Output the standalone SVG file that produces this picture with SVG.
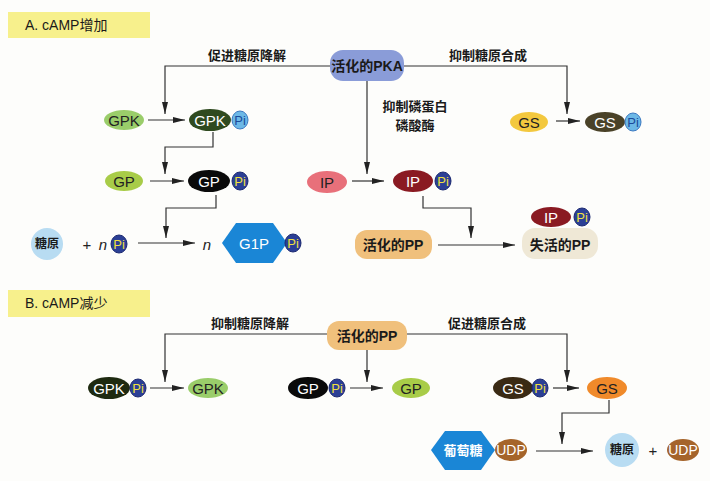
<svg xmlns="http://www.w3.org/2000/svg" width="710" height="481" viewBox="0 0 710 481">
<defs>
<marker id="ah" viewBox="0 0 12 6" refX="12" refY="3" markerWidth="12" markerHeight="6" markerUnits="userSpaceOnUse" orient="auto">
<path d="M0,0 L12,3 L0,6 Z" fill="#222"/>
</marker>
<style>
.ln{fill:none;stroke:#333;stroke-width:1.2;marker-end:url(#ah)}
.t{font-family:"Liberation Sans",Arial,sans-serif;font-size:15px;text-anchor:middle;dominant-baseline:central}
.cn{font-family:"Noto Sans CJK SC","Noto Sans",sans-serif;font-size:13px;font-weight:bold;text-anchor:middle;fill:#1a1a1a}
.cb{font-family:"Liberation Sans","Noto Sans CJK SC",sans-serif;font-size:14px;font-weight:bold;text-anchor:middle;dominant-baseline:central;fill:#1a1a1a}
.w{fill:#fff}
.pi{font-family:"Liberation Sans",Arial,sans-serif;font-size:13px;text-anchor:middle;dominant-baseline:central}
.pl{fill:#6cb8e6;stroke:#3a78c0;stroke-width:1}
.pd{fill:#2b3f95;stroke:#1a2870;stroke-width:1}
.ptl{fill:#1a4a9a}
.ptd{fill:#f0e040}
.ttl{font-family:"Liberation Sans","Noto Sans CJK SC",sans-serif;font-size:14px;fill:#1a1a1a}
</style>
</defs>
<rect width="710" height="481" fill="#fdfdfb"/>

<g id="titleA"><rect x="8" y="12" width="142" height="26" fill="#f7f08c"/><text x="25" y="30" class="ttl">A. cAMP增加</text></g>
<g id="titleB"><rect x="8" y="290" width="142" height="27" fill="#f7f08c"/><text x="25" y="308" class="ttl">B. cAMP减少</text></g>

<g id="connectors">
<polyline class="ln" points="330,66 165,66 165,114"/>
<polyline class="ln" points="404,66 567,66 567,114"/>
<polyline class="ln" points="367,80 367,174"/>
<line class="ln" x1="148" y1="120" x2="185" y2="120"/>
<line class="ln" x1="556" y1="121" x2="580" y2="121"/>
<polyline class="ln" points="213,132 213,147 165,147 165,174"/>
<line class="ln" x1="150" y1="181" x2="184" y2="181"/>
<line class="ln" x1="352" y1="181" x2="384" y2="181"/>
<polyline class="ln" points="216,195 216,208 166,208 166,238"/>
<line class="ln" x1="138" y1="243" x2="195" y2="243"/>
<polyline class="ln" points="423,196 423,208 471,208 471,238"/>
<line class="ln" x1="438" y1="245" x2="515" y2="245"/>

<polyline class="ln" points="327,334 165,334 165,382"/>
<polyline class="ln" points="407,334 567,334 567,382"/>
<line class="ln" x1="367" y1="349" x2="367" y2="382"/>
<line class="ln" x1="150" y1="388" x2="184" y2="388"/>
<line class="ln" x1="350" y1="388" x2="383" y2="388"/>
<line class="ln" x1="553" y1="388" x2="579" y2="388"/>
<polyline class="ln" points="609,400 609,413 562,413 562,444"/>
<line class="ln" x1="536" y1="451" x2="593" y2="451"/>
</g>

<g id="labels">
<text x="247" y="60" class="cn">促进糖原降解</text>
<text x="488" y="60" class="cn">抑制糖原合成</text>
<text x="415" y="111" class="cn">抑制磷蛋白</text>
<text x="415" y="130" class="cn">磷酸酶</text>
<text x="250" y="328" class="cn">抑制糖原降解</text>
<text x="487" y="328" class="cn">促进糖原合成</text>
</g>

<g id="pka"><rect x="330" y="50" width="74" height="31" rx="13" fill="#8a9cd8"/><text x="367" y="66" class="cb">活化的PKA</text></g>

<g id="gpk_a"><ellipse cx="124" cy="120" rx="20" ry="10" fill="#9acd6a"/><text x="124" y="120" class="t" fill="#222">GPK</text></g>
<g id="gpkpi_a"><ellipse cx="210" cy="120" rx="21" ry="11" fill="#2f4a1f"/><text x="210" y="120" class="t w">GPK</text><ellipse cx="240" cy="120" rx="8" ry="9" class="pl"/><text x="240" y="120" class="pi ptl">Pi</text></g>
<g id="gp_a"><ellipse cx="124" cy="181" rx="19" ry="10" fill="#a8cc48"/><text x="124" y="181" class="t" fill="#222">GP</text></g>
<g id="gppi_a"><ellipse cx="209" cy="181" rx="21" ry="11" fill="#0a0a0a"/><text x="209" y="181" class="t w">GP</text><ellipse cx="240" cy="181" rx="8" ry="9" class="pd"/><text x="240" y="181" class="pi ptd">Pi</text></g>
<g id="glycogen_a"><circle cx="47" cy="244" r="16" fill="#b8dcf2"/><text x="47" y="244" class="cb" style="font-size:12px">糖原</text></g>
<g id="npi"><text x="87" y="244" class="t" fill="#222">+</text><text x="103" y="244" class="t" fill="#222" font-style="italic">n</text><ellipse cx="119" cy="244" rx="8" ry="9" class="pd"/><text x="119" y="244" class="pi ptd">Pi</text></g>
<g id="g1p"><text x="207" y="244" class="t" fill="#222" font-style="italic">n</text><polygon points="222,243 236,223 273,223 287,243 273,263 236,263" fill="#1a86d6"/><text x="254" y="243" class="t w">G1P</text><ellipse cx="293" cy="243" rx="8" ry="9" class="pd"/><text x="293" y="243" class="pi ptd">Pi</text></g>
<g id="gs_a"><ellipse cx="529" cy="122" rx="19" ry="10" fill="#f3c83e"/><text x="529" y="122" class="t" fill="#222">GS</text></g>
<g id="gspi_a"><ellipse cx="605" cy="122" rx="20" ry="10" fill="#4a4228"/><text x="605" y="122" class="t w">GS</text><ellipse cx="633" cy="122" rx="8" ry="9" class="pl"/><text x="633" y="122" class="pi ptl">Pi</text></g>
<g id="ip"><ellipse cx="327" cy="182" rx="20" ry="11" fill="#e8707a"/><text x="327" y="182" class="t" fill="#222">IP</text></g>
<g id="ippi"><ellipse cx="413" cy="181" rx="20" ry="11" fill="#8a1a22"/><text x="413" y="181" class="t w">IP</text><ellipse cx="443" cy="181" rx="8" ry="9" class="pd"/><text x="443" y="181" class="pi ptd">Pi</text></g>
<g id="pp_a"><rect x="355" y="230" width="77" height="29" rx="12" fill="#f0c07c"/><text x="393" y="245" class="cb">活化的PP</text></g>
<g id="pp_inactive"><rect x="522" y="228" width="76" height="31" rx="13" fill="#efe8d6"/><text x="560" y="245" class="cb">失活的PP</text><ellipse cx="551" cy="217" rx="20" ry="10" fill="#8a1a22"/><text x="551" y="217" class="t w">IP</text><ellipse cx="582" cy="217" rx="8" ry="9" class="pd"/><text x="582" y="217" class="pi ptd">Pi</text></g>

<g id="pp_b"><rect x="327" y="321" width="80" height="29" rx="12" fill="#f0c07c"/><text x="367" y="336" class="cb">活化的PP</text></g>
<g id="gpkpi_b"><ellipse cx="109" cy="388" rx="21" ry="11" fill="#1e2a10"/><text x="109" y="388" class="t w">GPK</text><ellipse cx="138" cy="388" rx="8" ry="9" class="pd"/><text x="138" y="388" class="pi ptd">Pi</text></g>
<g id="gpk_b"><ellipse cx="208" cy="388" rx="20" ry="10" fill="#9acd6a"/><text x="208" y="388" class="t" fill="#222">GPK</text></g>
<g id="gppi_b"><ellipse cx="308" cy="388" rx="20" ry="11" fill="#0a0a0a"/><text x="308" y="388" class="t w">GP</text><ellipse cx="337" cy="388" rx="8" ry="9" class="pd"/><text x="337" y="388" class="pi ptd">Pi</text></g>
<g id="gp_b"><ellipse cx="411" cy="388" rx="19" ry="10" fill="#a8cc48"/><text x="411" y="388" class="t" fill="#222">GP</text></g>
<g id="gspi_b"><ellipse cx="513" cy="388" rx="20" ry="11" fill="#3a2a14"/><text x="513" y="388" class="t w">GS</text><ellipse cx="540" cy="388" rx="8" ry="9" class="pd"/><text x="540" y="388" class="pi ptd">Pi</text></g>
<g id="gs_b"><ellipse cx="607" cy="388" rx="20" ry="11" fill="#f08a2a"/><text x="607" y="388" class="t" fill="#222">GS</text></g>
<g id="udpglc"><polygon points="431,450 445,431 481,431 495,450 481,470 445,470" fill="#1a86d6"/><text x="463" y="450" class="cb w" style="font-size:13px">葡萄糖</text><ellipse cx="511" cy="450" rx="16" ry="11" fill="#a5642a"/><text x="511" y="450" class="t w" style="font-size:14px">UDP</text></g>
<g id="glycogen_b"><circle cx="622" cy="450" r="17" fill="#b8dcf2"/><text x="622" y="450" class="cb" style="font-size:12px">糖原</text></g>
<g id="udp"><text x="653" y="450" class="t" fill="#222">+</text><ellipse cx="683" cy="450" rx="16" ry="11" fill="#a5642a"/><text x="683" y="450" class="t w" style="font-size:14px">UDP</text></g>
</svg>
